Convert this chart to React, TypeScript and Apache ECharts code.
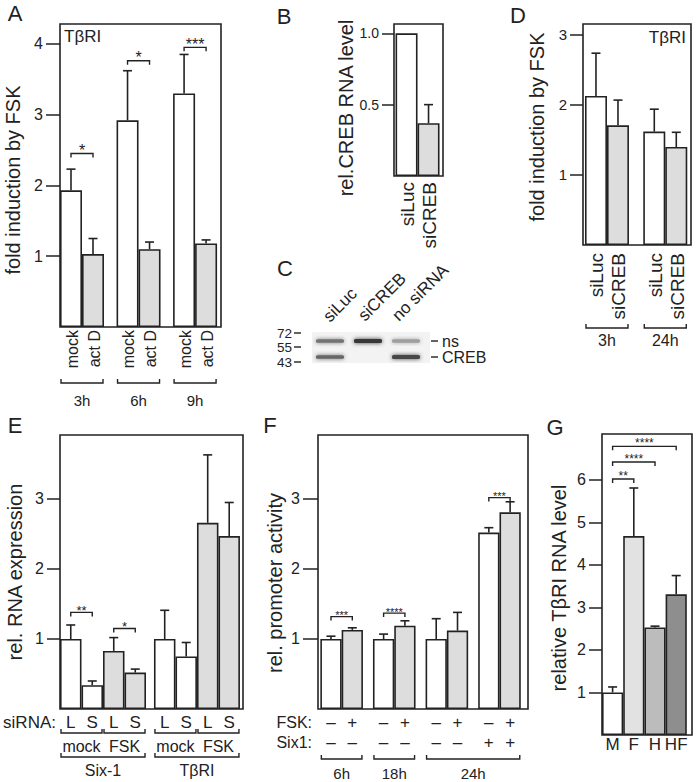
import React, { useEffect, useRef } from "react";
import * as echarts from "echarts";

const FONT = "'Liberation Sans', Arial, Helvetica, sans-serif";
const INK = "#222222";
const WHITE = "#ffffff";
const LIGHT = "#dddddd";

// ---------- Panel A
const aTimes = ["3h", "6h", "9h"];
const aConds = ["mock", "act D"];
const aMock = [1.93, 2.92, 3.3];
const aMockSd = [0.3, 0.7, 0.55];
const aActD = [1.03, 1.1, 1.18];
const aActDSd = [0.22, 0.1, 0.05];
const aSigLabels = ["*", "*", "***"];
const aSigLevels = [2.45, 3.76, 3.95];
const aTicks = [1, 2, 3, 4];

// ---------- Panel B
const bCats = ["siLuc", "siCREB"];
const bVals = [1.0, 0.37];
const bSd = [0, 0.13];
const bTicks = [0.5, 1.0];

// ---------- Panel C (western blot)
const cLanes = ["siLuc", "siCREB", "no siRNA"];
const cMarkers = ["72", "55", "43"];
const cBandNames = ["ns", "CREB"];
const cNs = [0.55, 0.78, 0.38];
const cCreb = [0.6, 0, 0.72];

// ---------- Panel D
const dTimes = ["3h", "24h"];
const dConds = ["siLuc", "siCREB"];
const dSiLuc = [2.13, 1.62];
const dSiLucSd = [0.61, 0.32];
const dSiCreb = [1.71, 1.4];
const dSiCrebSd = [0.36, 0.21];
const dTicks = [1, 2, 3];

// ---------- Panel E
const eGenes = ["Six-1", "TβRI"];
const eTreatments = ["mock", "FSK"];
const eSiRNA = ["L", "S"];
const eValues = [1.0, 0.34, 0.83, 0.52, 1.0, 0.75, 2.66, 2.47];
const eSd = [0.2, 0.06, 0.19, 0.05, 0.41, 0.2, 0.97, 0.48];
const eSigPairs = [[0, 1], [2, 3]];
const eSigLevels = [1.38, 1.15];
const eSigLabels = ["**", "*"];
const eTicks = [1, 2, 3];

// ---------- Panel F
const fTimes = ["6h", "18h", "24h"];
const fTimeBars = [2, 2, 4];
const fFSK = ["–", "+", "–", "+", "–", "+", "–", "+"];
const fSix1 = ["–", "–", "–", "–", "–", "–", "+", "+"];
const fValues = [1.0, 1.13, 1.0, 1.19, 1.0, 1.12, 2.52, 2.81];
const fSd = [0.04, 0.03, 0.07, 0.07, 0.29, 0.26, 0.07, 0.15];
const fSigPairs = [[0, 1], [2, 3], [6, 7]];
const fSigLevels = [1.32, 1.37, 3.02];
const fSigLabels = ["***", "****", "***"];
const fTicks = [1, 2, 3];

// ---------- Panel G
const gCats = ["M", "F", "H", "HF"];
const gValues = [1.0, 4.68, 2.53, 3.31];
const gSd = [0.13, 1.13, 0.03, 0.44];
const gColors = ["#ffffff", "#e2e2e2", "#bcbcbc", "#8e8e8e"];
const gSigPairs = [[0, 1], [0, 2], [0, 3]];
const gSigLevels = [6.02, 6.42, 6.79];
const gSigLabels = ["**", "****", "****"];
const gTicks = [1, 2, 3, 4, 5, 6];

type Bar = { v: number; sd: number; fill: string; label: string };
type Panel = {
  left: number; top: number; width: number; height: number; yMax: number;
  barW: number; groupSize: number; gap: number; pad: number;
  ticks: number[]; tickFont: number; tickLen: number; digits: number; bars: Bar[];
};

const xOf = (p: Panel, k: number) => p.pad + 0.5 + k + Math.floor(k / p.groupSize) * p.gap;

function buildPanels(): Panel[] {
  const aBars: Bar[] = [];
  aTimes.forEach((_, g) => {
    aBars.push({ v: aMock[g], sd: aMockSd[g], fill: WHITE, label: aConds[0] });
    aBars.push({ v: aActD[g], sd: aActDSd[g], fill: LIGHT, label: aConds[1] });
  });
  const bBars: Bar[] = bCats.map((c, k) => ({ v: bVals[k], sd: bSd[k], fill: k === 0 ? WHITE : LIGHT, label: c }));
  const dBars: Bar[] = [];
  dTimes.forEach((_, g) => {
    dBars.push({ v: dSiLuc[g], sd: dSiLucSd[g], fill: WHITE, label: dConds[0] });
    dBars.push({ v: dSiCreb[g], sd: dSiCrebSd[g], fill: LIGHT, label: dConds[1] });
  });
  const eBars: Bar[] = eValues.map((v, k) => ({
    v, sd: eSd[k], fill: Math.floor(k / 2) % 2 === 0 ? WHITE : LIGHT, label: eSiRNA[k % 2],
  }));
  const fBars: Bar[] = fValues.map((v, k) => ({ v, sd: fSd[k], fill: fFSK[k] === "+" ? LIGHT : WHITE, label: fFSK[k] }));
  const gBars: Bar[] = gValues.map((v, k) => ({ v, sd: gSd[k], fill: gColors[k], label: gCats[k] }));
  return [
    { left: 60, top: 24, width: 161, height: 303, yMax: 4.28, barW: 22, groupSize: 2, gap: 0.57, pad: 0, ticks: aTicks, tickFont: 16, tickLen: 14, digits: 0, bars: aBars },
    { left: 394, top: 24, width: 49, height: 152, yMax: 1.065, barW: 22, groupSize: 2, gap: 0, pad: 0.07, ticks: bTicks, tickFont: 14, tickLen: 12, digits: 1, bars: bBars },
    { left: 583, top: 24, width: 108, height: 221, yMax: 3.157, barW: 22, groupSize: 2, gap: 0.65, pad: 0.09, ticks: dTicks, tickFont: 15, tickLen: 13, digits: 0, bars: dBars },
    { left: 60, top: 435, width: 183, height: 274, yMax: 3.914, barW: 21.5, groupSize: 4, gap: 0.37, pad: 0, ticks: eTicks, tickFont: 16, tickLen: 13, digits: 0, bars: eBars },
    { left: 318, top: 435, width: 210, height: 274, yMax: 3.914, barW: 21.3, groupSize: 2, gap: 0.47, pad: 0.11, ticks: fTicks, tickFont: 16, tickLen: 15, digits: 0, bars: fBars },
    { left: 602, top: 434, width: 90, height: 301, yMax: 7.08, barW: 21.2, groupSize: 4, gap: 0, pad: 0, ticks: gTicks, tickFont: 16, tickLen: 13, digits: 0, bars: gBars },
  ];
}

function baseOption(P: Panel[]) {
  const series: any[] = [];
  P.forEach((p, i) => {
    series.push({
      type: "bar", xAxisIndex: i, yAxisIndex: i, barWidth: p.barW, z: 2, silent: true,
      itemStyle: { borderColor: INK, borderWidth: 1.6 },
      data: p.bars.map((b, k) => ({ value: [xOf(p, k), b.v], itemStyle: { color: b.fill } })),
    });
    series.push({
      type: "custom", xAxisIndex: i, yAxisIndex: i, z: 3, silent: true,
      data: p.bars.map((b, k) => [xOf(p, k), b.v, b.v + b.sd]),
      renderItem: (_params: any, api: any) => {
        const x = api.value(0), v = api.value(1), t = api.value(2);
        if (!(t > v)) return { type: "group", children: [] };
        const p0 = api.coord([x, v]);
        const p1 = api.coord([x, t]);
        const cap = 4.5;
        return {
          type: "group",
          children: [
            { type: "line", shape: { x1: p0[0], y1: p0[1], x2: p1[0], y2: p1[1] }, style: { stroke: INK, lineWidth: 1.6 } },
            { type: "line", shape: { x1: p1[0] - cap, y1: p1[1], x2: p1[0] + cap, y2: p1[1] }, style: { stroke: INK, lineWidth: 1.6 } },
          ],
        };
      },
    });
  });
  return {
    animation: false,
    backgroundColor: "#ffffff",
    grid: P.map((p) => ({
      left: p.left, top: p.top, width: p.width, height: p.height,
      show: true, borderColor: INK, borderWidth: 1.6, backgroundColor: "transparent",
    })),
    xAxis: P.map((p, i) => ({ type: "value", gridIndex: i, min: 0, max: p.width / p.barW, show: false })),
    yAxis: P.map((p, i) => ({
      type: "value", gridIndex: i, min: 0, max: p.yMax,
      splitLine: { show: false },
      axisLine: { show: false },
      axisTick: { show: true, customValues: p.ticks, length: p.tickLen, lineStyle: { color: INK, width: 1.5 } },
      axisLabel: {
        show: true, customValues: p.ticks, margin: p.tickLen + 3, fontSize: p.tickFont, fontFamily: FONT, color: INK,
        formatter: (v: number) => Number(v).toFixed(p.digits),
      },
    })),
    series,
  };
}

const txt = (text: string, x: number, y: number, fs: number, o: { rot?: number; align?: string; va?: string } = {}) => ({
  type: "text", x, y, rotation: o.rot ?? 0, z: 20, silent: true,
  style: {
    text, fontSize: fs, fontFamily: FONT, fill: INK,
    textAlign: o.align ?? "center", textVerticalAlign: o.va ?? "middle",
    align: o.align ?? "center", verticalAlign: o.va ?? "middle",
  },
});
const poly = (points: number[][], lw = 1.4) => ({
  type: "polyline", z: 20, silent: true, shape: { points }, style: { stroke: INK, lineWidth: lw, fill: null },
});
const seg = (x1: number, y1: number, x2: number, y2: number, lw = 1.4) => ({
  type: "line", z: 20, silent: true, shape: { x1, y1, x2, y2 }, style: { stroke: INK, lineWidth: lw },
});

function buildGraphics(chart: any, P: Panel[]) {
  const els: any[] = [];
  const cx = (pi: number, k: number) => (chart.convertToPixel({ gridIndex: pi }, [xOf(P[pi], k), 0]) as number[])[0];
  const cy = (pi: number, v: number) => (chart.convertToPixel({ gridIndex: pi }, [0, v]) as number[])[1];
  const edgeL = (pi: number, k: number) => cx(pi, k) - P[pi].barW / 2;
  const edgeR = (pi: number, k: number) => cx(pi, k) + P[pi].barW / 2;

  const sig = (pi: number, a: number, b: number, level: number, label: string, fs: number, lift: number) => {
    const y = cy(pi, level);
    const x1 = cx(pi, a), x2 = cx(pi, b);
    els.push(poly([[x1, y + 4], [x1, y], [x2, y], [x2, y + 4]]));
    els.push(txt(label, (x1 + x2) / 2, y - lift + 0.23 * fs, fs));
  };
  const under = (pi: number, a: number, b: number, y: number, label: string, fs: number, labelY: number) => {
    const l = edgeL(pi, a) + 1, r = edgeR(pi, b) - 1;
    els.push(poly([[l, y - 4], [l, y], [r, y], [r, y - 4]]));
    els.push(txt(label, (l + r) / 2, labelY, fs));
  };
  const rotLabels = (pi: number, top: number, fs: number) =>
    P[pi].bars.forEach((b, k) => els.push(txt(b.label, cx(pi, k) + 1, top, fs, { rot: Math.PI / 2, align: "right" })));

  // ---- A
  els.push(txt("A", 15, 13, 22));
  els.push(txt("TβRI", 64, 36, 17, { align: "left" }));
  els.push(txt("fold induction by FSK", 13, 180, 20, { rot: Math.PI / 2 }));
  rotLabels(0, 330, 16);
  aTimes.forEach((t, g) => under(0, 2 * g, 2 * g + 1, 383, t, 15, 400));
  aSigLabels.forEach((s, g) => sig(0, 2 * g, 2 * g + 1, aSigLevels[g], s, 16, 7));

  // ---- B
  els.push(txt("B", 284, 16, 22));
  els.push(txt("rel.CREB RNA level", 346, 108, 20, { rot: Math.PI / 2 }));
  rotLabels(1, 182, 19);

  // ---- C
  els.push(txt("C", 285, 268, 22));
  const laneX = (k: number) => 330 + k * 38;
  const labelAnchors = [[332, 325], [367, 324], [401, 324]];
  cLanes.forEach((l, k) => els.push(txt(l, labelAnchors[k][0], labelAnchors[k][1], 17, { rot: Math.PI / 4, align: "left", va: "bottom" })));
  els.push({ type: "rect", z: 15, silent: true, shape: { x: 312, y: 332, width: 118, height: 31 }, style: { fill: "#f3f3f3" } });
  const markerY = [333, 347, 362];
  cMarkers.forEach((m, k) => {
    els.push(txt(m, 292, markerY[k], 13.5, { align: "right" }));
    els.push(seg(294, markerY[k], 301, markerY[k]));
  });
  const bandY = [341, 357];
  [cNs, cCreb].forEach((arr, bi) => {
    arr.forEach((it, k) => {
      if (it <= 0) return;
      const g = Math.round(255 * (1 - it));
      const col = `rgb(${g},${g},${g})`;
      const h = 2.5 + 2 * it;
      els.push({
        type: "rect", z: 16, silent: true,
        shape: { x: laneX(k) - 14, y: bandY[bi] - h / 2, width: 28, height: h, r: 1.5 },
        style: { fill: col, shadowBlur: 4, shadowColor: col },
      });
    });
    els.push(seg(431, bandY[bi], 438, bandY[bi]));
    els.push(txt(cBandNames[bi], 442, bandY[bi], 16, { align: "left" }));
  });

  // ---- D
  els.push(txt("D", 518, 15, 22));
  els.push(txt("TβRI", 686, 37, 17, { align: "right" }));
  els.push(txt("fold induction by FSK", 537, 127, 20, { rot: Math.PI / 2 }));
  rotLabels(2, 253, 19);
  dTimes.forEach((t, g) => under(2, 2 * g, 2 * g + 1, 328, t, 16, 340));

  // ---- E
  els.push(txt("E", 15, 425, 22));
  els.push(txt("rel. RNA expression", 15, 572, 20, { rot: Math.PI / 2 }));
  els.push(txt("siRNA:", 56, 722, 17, { align: "right" }));
  P[3].bars.forEach((b, k) => els.push(txt(b.label, cx(3, k), 722, 17)));
  [0, 1, 2, 3].forEach((g) => under(3, 2 * g, 2 * g + 1, 733, eTreatments[g % 2], 16, 746));
  eGenes.forEach((gn, g) => under(3, 4 * g, 4 * g + 3, 757, gn, 16, 770));
  eSigPairs.forEach((pr, s) => sig(3, pr[0], pr[1], eSigLevels[s], eSigLabels[s], 13, 5));

  // ---- F
  els.push(txt("F", 270, 425, 22));
  els.push(txt("rel. promoter activity", 275, 583, 20, { rot: Math.PI / 2 }));
  els.push(txt("FSK:", 312, 722, 16, { align: "right" }));
  els.push(txt("Six1:", 312, 742, 16, { align: "right" }));
  fFSK.forEach((s, k) => els.push(txt(s, cx(4, k), 722, 17)));
  fSix1.forEach((s, k) => els.push(txt(s, cx(4, k), 742, 17)));
  let start = 0;
  fTimes.forEach((t, g) => {
    under(4, start, start + fTimeBars[g] - 1, 759, t, 15, 773);
    start += fTimeBars[g];
  });
  fSigPairs.forEach((pr, s) => sig(4, pr[0], pr[1], fSigLevels[s], fSigLabels[s], 11, 4));

  // ---- G
  els.push(txt("G", 555, 427, 22));
  els.push(txt("relative TβRI RNA level", 559, 588, 20, { rot: Math.PI / 2 }));
  P[5].bars.forEach((b, k) => els.push(txt(b.label, cx(5, k), 744, 17)));
  gSigPairs.forEach((pr, s) => sig(5, pr[0], pr[1], gSigLevels[s], gSigLabels[s], 12, 6));

  return els;
}

export default function App() {
  const ref = useRef<HTMLDivElement>(null);
  useEffect(() => {
    if (!ref.current) return;
    const chart = echarts.init(ref.current, null, { renderer: "svg" });
    const panels = buildPanels();
    chart.setOption(baseOption(panels) as any);
    chart.setOption({ graphic: { elements: buildGraphics(chart, panels) } } as any);
    return () => chart.dispose();
  }, []);
  return (
    <div
      ref={ref}
      style={{ position: "absolute", left: 0, top: 0, width: 696, height: 782, background: "#ffffff" }}
    />
  );
}
